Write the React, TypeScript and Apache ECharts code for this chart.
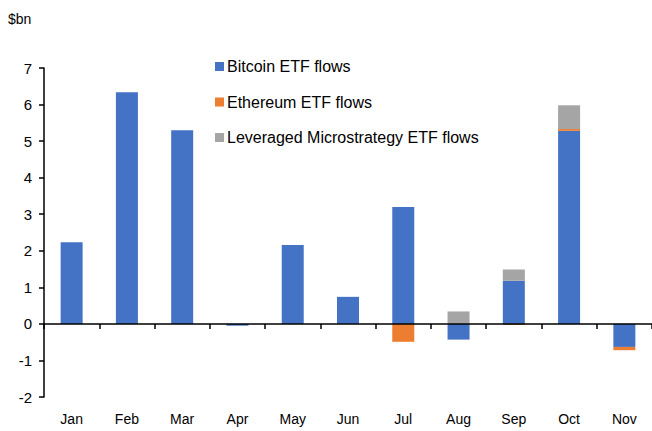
import React, { useEffect, useRef } from "react";
import * as echarts from "echarts";

const categories = ["Jan", "Feb", "Mar", "Apr", "May", "Jun", "Jul", "Aug", "Sep", "Oct", "Nov"];
const bitcoin = [2.23, 6.34, 5.3, -0.05, 2.16, 0.74, 3.2, -0.43, 1.18, 5.28, -0.63];
const ethereum = [0, 0, 0, 0, 0, 0, -0.49, 0, -0.03, 0.05, -0.09];
const leveraged = [0, 0, 0, 0, 0, 0, 0, 0.34, 0.31, 0.65, 0];
const yTicks = { min: -2, max: 7, interval: 1 };

const FONT = "Liberation Sans, Arial, sans-serif";

export default function App() {
  const ref = useRef<HTMLDivElement>(null);
  useEffect(() => {
    if (!ref.current) return;
    const chart = echarts.init(ref.current, null, { renderer: "svg" });
    chart.setOption({
      animation: false,
      textStyle: { fontFamily: FONT, color: "#000" },
      graphic: [
        { type: "text", left: 8, top: 12, style: { text: "$bn", font: `14px ${FONT}`, fill: "#000" } },
      ],
      legend: {
        orient: "vertical",
        left: 210,
        top: 52,
        itemWidth: 9,
        itemHeight: 9,
        itemGap: 16.5,
        icon: "rect",
        textStyle: { fontFamily: FONT, fontSize: 16, color: "#000", lineHeight: 19, padding: [0, 0, 0, -2] },
        data: ["Bitcoin ETF flows", "Ethereum ETF flows", "Leveraged Microstrategy ETF flows"],
      },
      grid: { left: 44, right: 0, top: 68, bottom: 34, containLabel: false },
      xAxis: [
        {
          type: "category",
          data: categories,
          position: "bottom",
          axisLine: { show: false, onZero: false },
          axisTick: { show: false },
          axisLabel: { fontSize: 14, color: "#000", fontFamily: FONT, margin: 15 },
        },
        {
          type: "category",
          data: categories,
          position: "top",
          axisLine: { show: true, onZero: true, lineStyle: { color: "#000", width: 1.5 } },
          axisTick: { show: true, inside: true, length: 5, lineStyle: { color: "#000", width: 1.5 } },
          axisLabel: { show: false },
          z: 10,
        },
      ],
      yAxis: {
        type: "value",
        min: yTicks.min,
        max: yTicks.max,
        interval: yTicks.interval,
        splitLine: { show: false },
        axisLine: { show: true, lineStyle: { color: "#000", width: 1.5 } },
        axisTick: { show: true, length: 5, lineStyle: { color: "#000", width: 1.5 } },
        axisLabel: { fontSize: 15, color: "#000", fontFamily: FONT, margin: 12 },
      },
      series: [
        {
          name: "Bitcoin ETF flows",
          type: "bar",
          stack: "all",
          data: bitcoin,
          barWidth: 22,
          itemStyle: { color: "#4472C4" },
        },
        {
          name: "Ethereum ETF flows",
          type: "bar",
          stack: "all",
          data: ethereum,
          barWidth: 22,
          itemStyle: { color: "#ED7D31" },
        },
        {
          name: "Leveraged Microstrategy ETF flows",
          type: "bar",
          stack: "all",
          data: leveraged,
          barWidth: 22,
          itemStyle: { color: "#A5A5A5" },
        },
      ],
    });
    return () => chart.dispose();
  }, []);
  return <div ref={ref} style={{ width: 652, height: 431, position: "absolute", left: 0, top: 0 }} />;
}
